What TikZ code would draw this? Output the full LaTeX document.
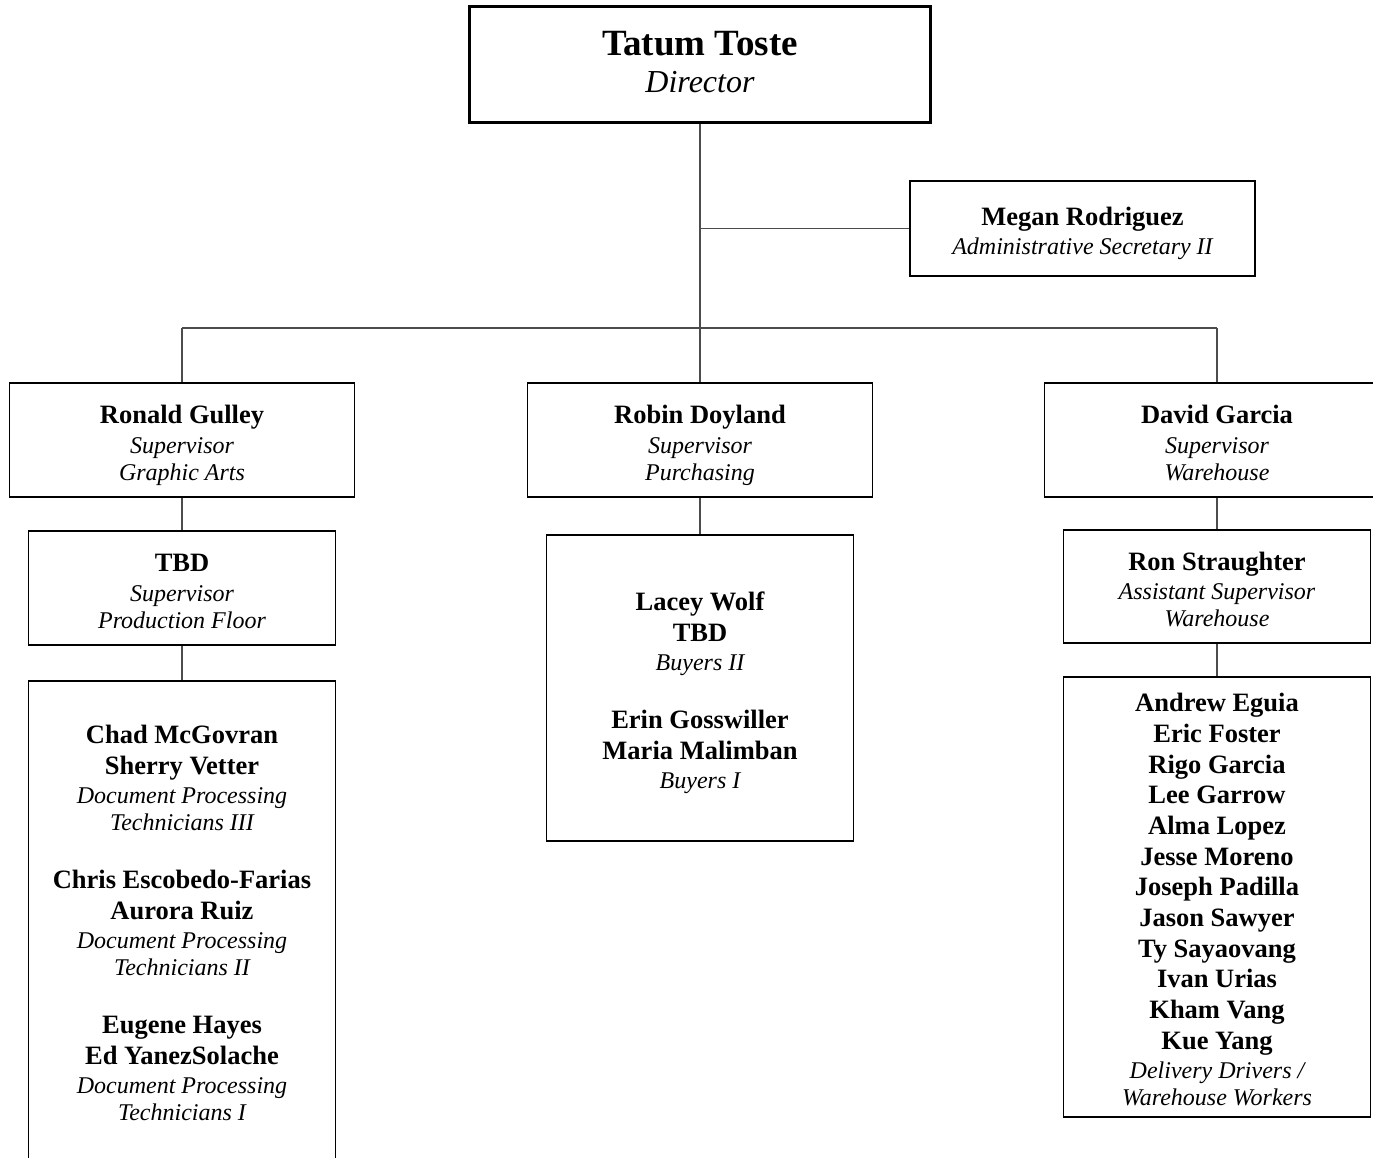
\documentclass[tikz,border=0pt]{standalone}
\usepackage{fontspec}
\setmainfont{Liberation Serif}
\usepackage{tikz}
\tikzstyle{block} = [rectangle, draw, line width=1.8pt, align=center, inner sep=0pt, text depth=0pt, font=\fontsize{24}{27}\selectfont\itshape]
\tikzstyle{line} = [draw, line width=1.3pt, black!70]
\newcommand{\nm}[1]{{\upshape\bfseries\fontsize{26.5}{27}\selectfont #1}}
\newcommand{\tstrut}{\rule{0pt}{23.5pt}}

\begin{document}
\begin{tikzpicture}[x=1pt,y=-1pt]
\useasboundingbox (0,0) rectangle (1373,1158);
\clip (0,0) rectangle (1373,1158);

\node [block, line width=3pt, minimum width=461pt, minimum height=116pt, text depth=6pt, font=\fontsize{32}{37}\selectfont\itshape] (dir) at (700,65) {{\upshape\bfseries\fontsize{37}{37}\selectfont Tatum Toste}\\ Director};
\node [block, minimum width=345pt, minimum height=95pt] (sec) at (1082.5,228.5) {\tstrut\nm{Megan Rodriguez}\\[2pt] Administrative Secretary II};

\node [block, minimum width=345pt, minimum height=114pt] (sup1) at (182,440) {\tstrut\nm{Ronald Gulley}\\[3pt] Supervisor\\ Graphic Arts};
\node [block, minimum width=345pt, minimum height=114pt] (sup2) at (700,440) {\tstrut\nm{Robin Doyland}\\[3pt] Supervisor\\ Purchasing};
\node [block, minimum width=345pt, minimum height=114pt] (sup3) at (1217,440) {\tstrut\nm{David Garcia}\\[3pt] Supervisor\\ Warehouse};

\node [block, minimum width=307pt, minimum height=114pt] (tbd) at (182,588) {\tstrut\nm{TBD}\\[3pt] Supervisor\\ Production Floor};
\node [block, minimum width=307pt, minimum height=484pt] (tech) at (182,923) {\nm{Chad McGovran}\\[3.5pt] \nm{Sherry Vetter}\\[2.5pt] Document Processing\\ Technicians III\\[31pt]
\nm{Chris Escobedo-Farias}\\[3.5pt] \nm{Aurora Ruiz}\\[2.5pt] Document Processing\\ Technicians II\\[31pt]
\nm{Eugene Hayes}\\[3.5pt] \nm{Ed YanezSolache}\\[2.5pt] Document Processing\\ Technicians I};

\node [block, minimum width=307pt, minimum height=306pt] (buy) at (700,688) {\tstrut\nm{Lacey Wolf}\\[3.5pt] \nm{TBD}\\[2.5pt] Buyers II\\[31pt]
\nm{Erin Gosswiller}\\[3.5pt] \nm{Maria Malimban}\\[2.5pt] Buyers I};

\node [block, minimum width=307pt, minimum height=113pt] (ast) at (1217,586.5) {\tstrut\nm{Ron Straughter}\\[2.5pt] Assistant Supervisor\\ Warehouse};
\node [block, minimum width=307pt, minimum height=440pt] (drv) at (1217,897) {\tstrut\nm{Andrew Eguia}\\[3.7pt] \nm{Eric Foster}\\[3.7pt] \nm{Rigo Garcia}\\[3.7pt] \nm{Lee Garrow}\\[3.7pt]
\nm{Alma Lopez}\\[3.7pt] \nm{Jesse Moreno}\\[3.7pt] \nm{Joseph Padilla}\\[3.7pt] \nm{Jason Sawyer}\\[3.7pt]
\nm{Ty Sayaovang}\\[3.7pt] \nm{Ivan Urias}\\[3.7pt] \nm{Kham Vang}\\[3.7pt] \nm{Kue Yang}\\[2.5pt] Delivery Drivers /\\ Warehouse Workers};

\coordinate (bar) at (0,328);
\path [line] (dir.south) -- (dir.south |- bar);
\path [line] (dir.south |- sec.west) -- (sec.west);
\path [line] (sup1.north |- bar) -- (sup3.north |- bar);
\path [line] (sup1.north |- bar) -- (sup1.north);
\path [line] (sup2.north |- bar) -- (sup2.north);
\path [line] (sup3.north |- bar) -- (sup3.north);

\path [line] (sup1.south) -- (tbd.north);
\path [line] (tbd.south) -- (tech.north);
\path [line] (sup2.south) -- (buy.north);
\path [line] (sup3.south) -- (ast.north);
\path [line] (ast.south) -- (drv.north);
\end{tikzpicture}
\end{document}
